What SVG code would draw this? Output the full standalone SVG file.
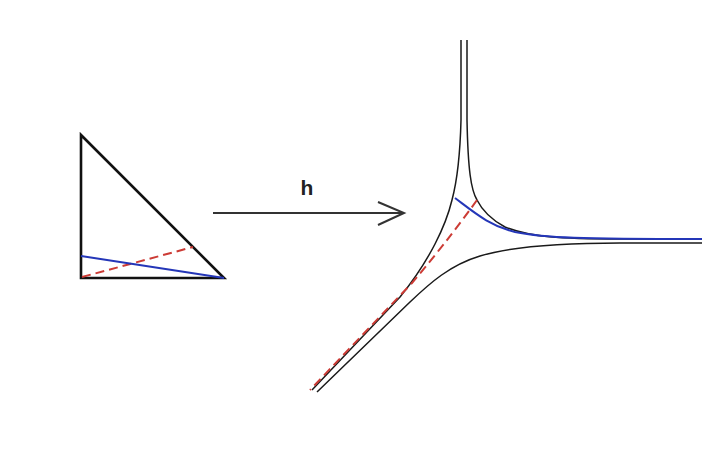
<svg xmlns="http://www.w3.org/2000/svg" width="717" height="468" viewBox="0 0 717 468">
<style>
.tri{fill:none;stroke:#111;stroke-width:2.6;stroke-linejoin:miter}
.curve{fill:none;stroke:#1a1a1a;stroke-width:1.5}
.blue{fill:none;stroke:#2436b8;stroke-width:2}
.red{fill:none;stroke:#cc3b35;stroke-width:2;stroke-dasharray:9,5}
.arrow{fill:none;stroke:#333;stroke-width:2}
.lbl{font-family:"Liberation Sans",Arial,sans-serif;font-size:21px;font-weight:bold;fill:#222}
</style>
<rect width="717" height="468" fill="#fff"/>
<g id="triangle">
<path class="tri" d="M81,135 L81,278 L224,278 Z"/>
<path class="red" d="M82,277 L193,247"/>
<path class="blue" d="M81,256 L224,278"/>
</g>
<g id="connectors">
<path class="arrow" d="M213,213 L404,213 M378,202 L404,213 L378,225"/>
<text class="lbl" x="307" y="195" text-anchor="middle">h</text>
</g>
<g id="image">
<path class="curve" d="M461,40 L461,120 C460,160 456,185 452,200 C446,225 430,260 400,297 L312,390"/>
<path class="curve" d="M467,40 L467,120 C468,170 471,190 477,200 C483,212 492,220 505,227 C530,237 560,239 620,239 L702,239"/>
<path class="curve" d="M317,392 L410,302 C430,283 450,265 480,256 C510,247 560,243 620,243 L702,243"/>
<path class="blue" d="M455,198 C475,213 490,226 515,232 C545,238 580,239 702,239"/>
<path class="red" d="M477,200 C465,217 440,250 412,283 L310,390"/>
</g>
</svg>
